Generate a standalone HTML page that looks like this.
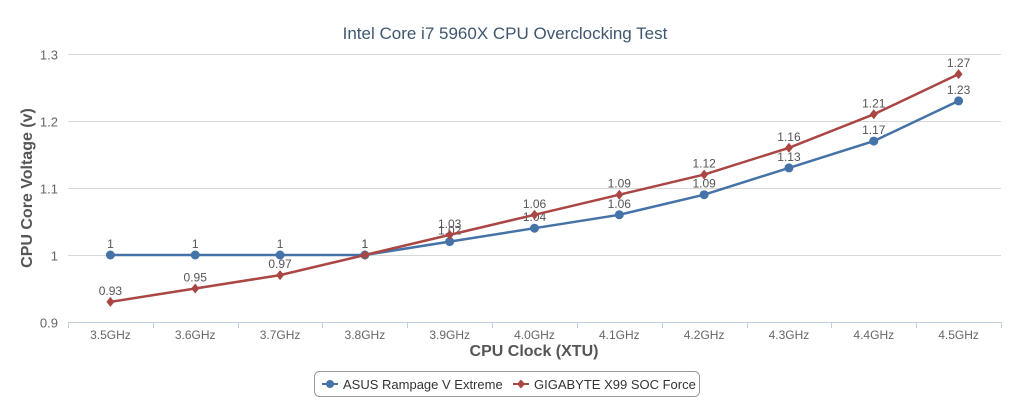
<!DOCTYPE html>
<html><head><meta charset="utf-8"><style>
body{margin:0;background:#fff;font-family:"Liberation Sans",sans-serif;}
svg text{font-family:"Liberation Sans",sans-serif;}
</style></head><body>
<svg id="c" width="1009" height="400" xmlns="http://www.w3.org/2000/svg">
<text x="505" y="39" text-anchor="middle" font-size="17" fill="#3e576f">Intel Core i7 5960X CPU Overclocking Test</text>
<text transform="translate(32,188) rotate(-90)" text-anchor="middle" font-size="16" font-weight="bold" fill="#555">CPU Core Voltage (v)</text>
<text x="534" y="356" text-anchor="middle" font-size="16" font-weight="bold" fill="#555">CPU Clock (XTU)</text>
<g id="grid"></g><g id="series"></g>
<g>
<rect x="314.5" y="371.5" width="385" height="25" rx="5" fill="#fff" stroke="#999"/>
<g>
<line x1="322" y1="384" x2="338" y2="384" stroke="#4572a7" stroke-width="2"/><circle cx="330" cy="384" r="4" fill="#4572a7"/>
<text x="343" y="389" font-size="13" fill="#333">ASUS Rampage V Extreme</text></g>
<g>
<line x1="513" y1="384" x2="529" y2="384" stroke="#aa4643" stroke-width="2"/><path d="M521 379.5L525 384L521 388.5L517 384Z" fill="#aa4643"/>
<text x="534" y="389" font-size="13" fill="#333">GIGABYTE X99 SOC Force</text></g>
</g>
</svg>
<script>
const categories=["3.5GHz","3.6GHz","3.7GHz","3.8GHz","3.9GHz","4.0GHz","4.1GHz","4.2GHz","4.3GHz","4.4GHz","4.5GHz"];
const asusValues=[1,1,1,1,1.02,1.04,1.06,1.09,1.13,1.17,1.23];
const gigabyteValues=[0.93,0.95,0.97,1,1.03,1.06,1.09,1.12,1.16,1.21,1.27];
const yTicks=[0.9,1,1.1,1.2,1.3];
const yTickLabels=["0.9","1","1.1","1.2","1.3"];
const NS="http://www.w3.org/2000/svg";
const L=68,R=1001,T=54,B=322,yMin=0.9,yMax=1.3;
const bw=(R-L)/categories.length;
const xs=i=>L+bw*(i+0.5);
const ys=v=>B-(v-yMin)/(yMax-yMin)*(B-T);
function mk(t,a,p){const e=document.createElementNS(NS,t);for(const k in a)e.setAttribute(k,a[k]);p.appendChild(e);return e;}
const g=document.getElementById('grid'),s=document.getElementById('series');
yTicks.forEach((v,i)=>{
 const y=Math.round(ys(v))+0.5;
 const ln=mk('line',{x1:L,x2:R,y1:y,y2:y,stroke:i==0?'#c0d0e0':'#d8d8d8','stroke-width':1},g);
 
 
 const t=mk('text',{x:L-10,y:y+5,'text-anchor':'end','font-size':13,fill:'#666'},g);t.textContent=yTickLabels[i];
 
 
});
for(let i=0;i<=categories.length;i++){const x=Math.round(L+bw*i)+0.5;mk('line',{x1:x,x2:x,y1:B,y2:B+6,stroke:'#c0d0e0'},g);}
categories.forEach((c,i)=>{const t=mk('text',{x:xs(i),y:B+17,'text-anchor':'middle','font-size':12,fill:'#666'},g);t.textContent=c;
 
 });
function draw(vals,color,shape,name){
 const pl=mk('polyline',{points:vals.map((v,i)=>xs(i)+','+ys(v)).join(' '),fill:'none',stroke:color,'stroke-width':2.5},s);
 
 
 vals.forEach((v,i)=>{const x=xs(i),y=ys(v);let m;
  if(shape=='c')m=mk('circle',{cx:x,cy:y,r:4.5,fill:color},s);
  else m=mk('path',{d:`M${x} ${y-5}L${x+4} ${y}L${x} ${y+5}L${x-4} ${y}Z`,fill:color},s);
  
  
  const t=mk('text',{x:x,y:y-7,'text-anchor':'middle','font-size':12,fill:'#555'},s);t.textContent=v;
  
  
 });
}
draw(asusValues,'#4572a7','c','asus');
draw(gigabyteValues,'#aa4643','d','gigabyte');
</script>
</body></html>
